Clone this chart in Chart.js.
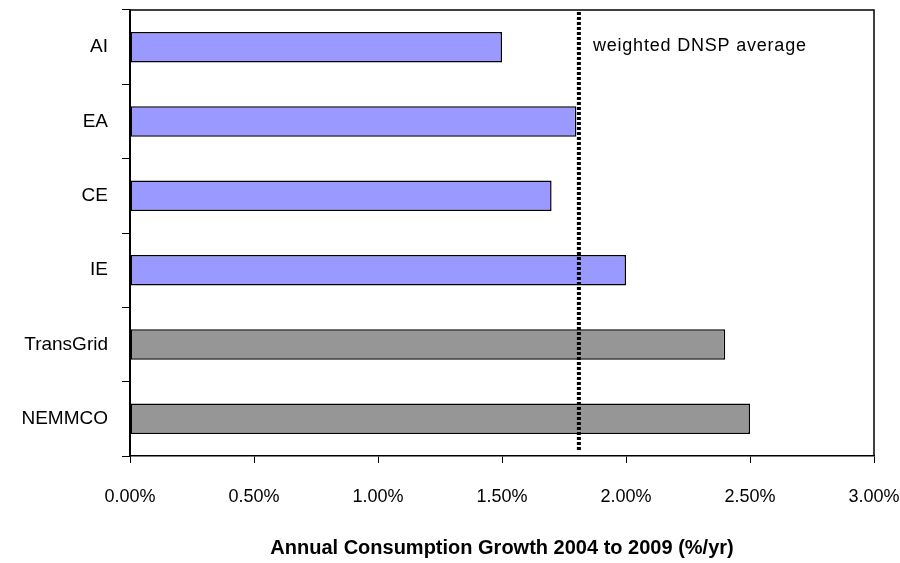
<!DOCTYPE html>
<html>
<head>
<meta charset="utf-8">
<script src="https://cdn.jsdelivr.net/npm/chart.js@4"></script>
<style>
  body { margin: 0; background: #fff; }
  #wrap { width: 900px; height: 563px; }
</style>
</head>
<body>
<div id="wrap"><canvas id="growth-chart"></canvas></div>
<script>
var categories = ["AI", "EA", "CE", "IE", "TransGrid", "NEMMCO"];
var growth = [1.5, 1.8, 1.7, 2.0, 2.4, 2.5];
var barColors = ["#9999FF", "#9999FF", "#9999FF", "#9999FF", "#969696", "#969696"];
var dnspAverage = 1.81;
var xTicks = [0, 0.5, 1, 1.5, 2, 2.5, 3];

var FONT = "'Liberation Sans', Arial, sans-serif";

// frame + dashed average line + label
var extras = {
    id: 'extras',
    afterDatasetsDraw: function(chart) {
        var ctx = chart.ctx, a = chart.chartArea;
        var x = chart.scales.x.getPixelForValue(dnspAverage);
        ctx.save();
        ctx.strokeStyle = '#000';
        ctx.lineWidth = 1.5;
        ctx.beginPath();
        ctx.moveTo(a.left, a.top);
        ctx.lineTo(a.right, a.top);
        ctx.lineTo(a.right, a.bottom);
        ctx.stroke();
        ctx.lineWidth = 4;
        ctx.setLineDash([3, 2]);
        ctx.beginPath();
        ctx.moveTo(x, a.top + 2);
        ctx.lineTo(x, a.bottom - 6);
        ctx.stroke();
        ctx.setLineDash([]);
        ctx.fillStyle = '#000';
        ctx.font = "18px " + FONT;
        if ('letterSpacing' in ctx) ctx.letterSpacing = '0.8px';
        ctx.textBaseline = 'middle';
        ctx.fillText('weighted DNSP average', x + 14, a.top + 36);
        ctx.restore();
    }
};

new Chart(document.getElementById("growth-chart"), {
    type: 'bar',
    data: {
        labels: categories,
        datasets: [{
            label: "Growth",
            data: growth,
            backgroundColor: barColors,
            borderColor: '#000',
            borderWidth: 1.5,
            borderSkipped: false,
            categoryPercentage: 1,
            barPercentage: 0.41
        }]
    },
    options: {
        indexAxis: 'y',
        maintainAspectRatio: false,
        responsive: true,
        animation: false,
        layout: { padding: { top: 10, right: 26, left: 0, bottom: 0 } },
        plugins: {
            legend: { display: false },
            tooltip: { enabled: false }
        },
        scales: {
            x: {
                min: 0,
                max: 3,
                afterBuildTicks: function(scale) {
                    scale.ticks = xTicks.map(function(v) { return { value: v }; });
                },
                afterFit: function(scale) {
                    scale.height = 107;
                    scale.paddingLeft = 0;
                    scale.paddingRight = 0;
                },
                ticks: {
                    color: '#000',
                    padding: 23,
                    maxRotation: 0,
                    font: { family: FONT, size: 18 },
                    callback: function(v) { return v.toFixed(2) + '%'; }
                },
                grid: { drawOnChartArea: false, color: '#000', tickLength: 7, lineWidth: 1 },
                border: { color: '#000', width: 1.5 },
                title: {
                    display: true,
                    text: 'Annual Consumption Growth 2004 to 2009 (%/yr)',
                    color: '#000',
                    font: { family: FONT, size: 20, weight: 'bold' },
                    padding: { top: 0, bottom: 3 }
                }
            },
            y: {
                afterFit: function(scale) {
                    scale.width = 130;
                    scale.paddingTop = 0;
                    scale.paddingBottom = 0;
                },
                ticks: {
                    color: '#000',
                    padding: 14,
                    font: { family: FONT, size: 19 }
                },
                grid: { drawOnChartArea: false, color: '#000', tickLength: 8, lineWidth: 1 },
                border: { color: '#000', width: 2 }
            }
        }
    },
    plugins: [extras]
});
</script>
</body>
</html>
